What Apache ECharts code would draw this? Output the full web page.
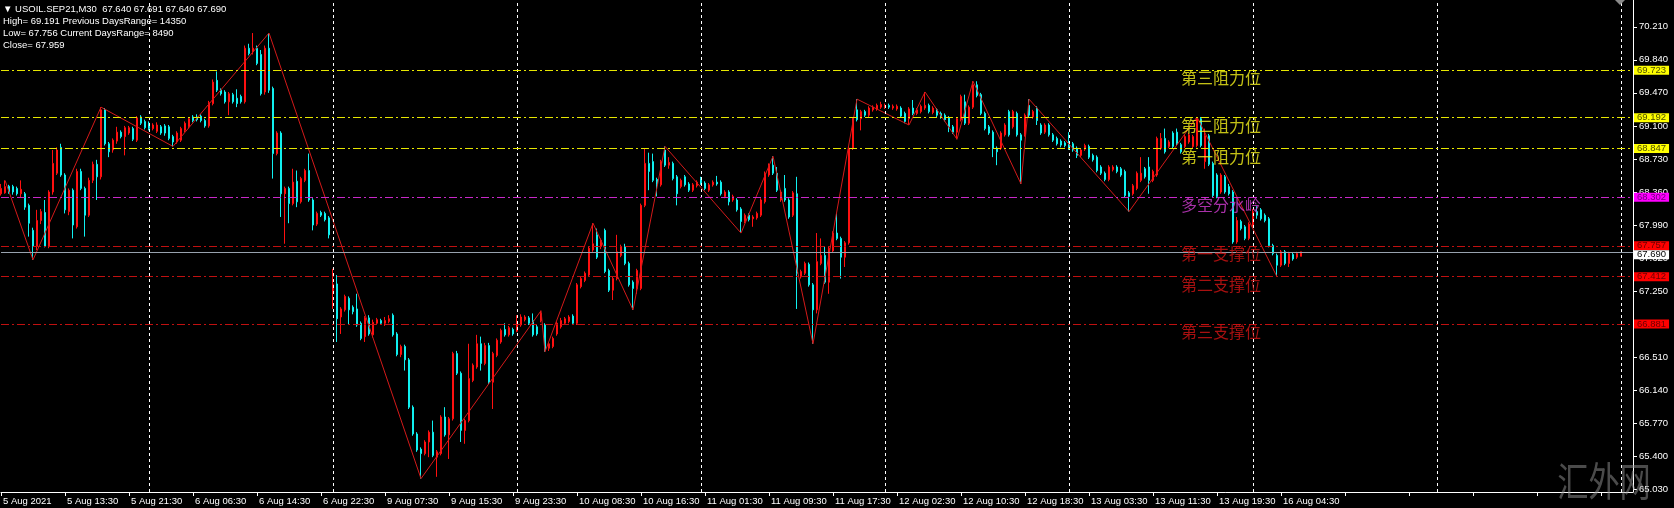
<!DOCTYPE html>
<html><head><meta charset="utf-8">
<script src="https://cdn.jsdelivr.net/npm/echarts@6/dist/echarts.min.js"></script>
<style>html,body{margin:0;padding:0;background:#000;}#c{width:1674px;height:508px;}</style>
</head><body><div id="c"></div>
<script>
// ---- tick labels (one every 16 M30 bars, starting at bar 0) ----
const timeLabels = ['5 Aug 2021','5 Aug 13:30','5 Aug 21:30','6 Aug 06:30','6 Aug 14:30','6 Aug 22:30',
  '9 Aug 07:30','9 Aug 15:30','9 Aug 23:30','10 Aug 08:30','10 Aug 16:30','11 Aug 01:30','11 Aug 09:30',
  '11 Aug 17:30','12 Aug 02:30','12 Aug 10:30','12 Aug 18:30','13 Aug 03:30','13 Aug 11:30','13 Aug 19:30','16 Aug 04:30'];
const labelStep = 16;
const slotCount = 409;
const yTicks = [65.030,65.400,65.770,66.140,66.510,66.880,67.250,67.620,67.990,68.360,68.730,69.100,69.470,69.840,70.210];
const daySeparators = [37,83,129,175,221,267,313,359,405];

// ---- candles [open, close, low, high] per trading day ----
const aug05 = [[68.34,68.40,68.32,68.45],[68.35,68.42,68.34,68.49],[68.425,68.36,68.34,68.44],[68.42,68.36,68.33,68.44],
[68.40,68.34,68.32,68.42],[68.34,68.39,68.30,68.49],[68.34,68.19,68.16,68.36],[68.21,68.01,67.86,68.23],[67.93,67.75,67.60,67.96],
[67.75,68.04,67.71,68.16],[68.04,68.14,68.00,68.17],[68.13,67.75,67.74,68.27],[67.75,68.36,67.73,68.38],[68.36,68.68,68.33,68.83],
[68.57,68.83,68.55,68.86],[68.86,68.55,68.53,68.90],[68.55,68.16,68.12,68.57],[68.14,68.38,68.10,68.40],[68.38,67.99,67.84,68.40],
[67.97,68.59,67.95,68.62],[68.59,68.40,68.38,68.62],[68.40,68.10,67.86,68.42],[68.10,68.49,68.08,68.52],[68.49,68.67,68.46,68.70],
[68.67,68.53,68.27,68.72],[68.53,69.28,68.50,69.31],[69.28,68.90,68.88,69.30],[68.90,68.81,68.75,68.92],[68.83,68.94,68.80,68.96],
[68.93,69.03,68.90,69.09],[69.03,68.98,68.96,69.05],[68.98,69.08,68.77,69.10],[69.02,69.08,69.00,69.10],[69.07,68.95,68.93,69.09],
[68.94,69.19,68.92,69.21],[69.20,69.13,69.11,69.22],[69.15,69.08,69.06,69.17]];
const aug06 = [[69.13,69.07,69.05,69.15],[69.07,69.11,69.05,69.13],[69.04,69.11,69.02,69.14],[69.09,69.02,69.00,69.11],
[69.10,69.02,68.99,69.12],[69.09,68.96,68.94,69.11],[68.98,68.92,68.87,69.00],[68.92,69.02,68.90,69.04],[68.94,69.07,68.92,69.09],
[69.05,69.13,69.03,69.15],[69.09,69.18,69.07,69.20],[69.20,69.16,69.14,69.22],[69.20,69.17,69.15,69.23],[69.21,69.16,69.14,69.23],
[69.16,69.10,69.08,69.18],[69.10,69.36,69.08,69.38],[69.35,69.59,69.33,69.62],[69.61,69.50,69.48,69.71],[69.50,69.46,69.44,69.52],
[69.48,69.37,69.35,69.50],[69.37,69.46,69.22,69.48],[69.45,69.37,69.35,69.47],[69.41,69.35,69.31,69.51],[69.43,69.37,69.35,69.45],
[69.37,69.97,69.35,70.00],[69.97,69.91,69.89,70.02],[69.93,69.97,69.90,70.14],[69.97,69.80,69.78,70.00],[69.90,69.46,69.44,69.95],
[69.48,69.97,69.45,70.00],[69.97,69.50,69.47,70.14],[69.52,68.79,68.51,69.54],[68.79,69.02,68.77,69.04],[69.02,68.34,68.08,69.04],
[68.34,68.40,67.78,68.42],[68.40,68.23,68.01,68.42],[68.23,68.47,68.21,68.62],[68.48,68.25,68.19,68.60],[68.25,68.51,68.23,68.53],
[68.49,68.60,68.47,68.62],[68.60,68.27,68.25,68.79],[68.27,67.99,67.93,68.29],[68.00,68.12,67.98,68.14],[68.13,68.10,68.08,68.15],
[68.12,68.05,68.03,68.14],[68.07,67.88,67.84,68.09]];
const aug09 = [[67.24,67.33,67.05,67.50],[67.33,66.94,66.68,67.43],[66.96,67.05,66.77,67.07],[67.04,67.19,67.02,67.21],
[67.17,67.04,66.87,67.19],[67.07,67.02,66.99,67.09],[67.05,66.87,66.85,67.22],[66.89,66.72,66.70,66.91],[66.74,66.95,66.68,66.97],
[66.95,66.77,66.75,66.98],[66.76,66.90,66.73,66.93],[66.89,66.93,66.87,66.95],[66.92,66.89,66.87,66.94],[66.89,66.92,66.86,66.96],
[66.91,66.94,66.89,66.98],[66.98,66.76,66.74,67.00],[66.77,66.54,66.52,66.79],[66.54,66.63,66.51,66.65],[66.63,66.48,66.36,66.65],
[66.48,65.95,65.93,66.50],[65.95,65.65,65.63,65.97],[65.65,65.47,65.45,65.67],[65.48,65.43,65.15,65.50],[65.43,65.56,65.41,65.58],
[65.56,65.67,65.39,65.69],[65.67,65.41,65.39,65.80],[65.39,65.45,65.17,65.47],[65.43,65.84,65.41,65.86],[65.84,65.64,65.62,65.95],
[65.64,65.82,65.37,65.84],[65.82,66.55,65.80,66.57],[66.55,66.33,66.31,66.58],[66.33,65.69,65.56,66.35],[65.69,65.80,65.54,65.82],
[65.80,66.27,65.78,66.66],[66.25,66.42,66.23,66.44],[66.40,66.66,66.38,66.76],[66.66,66.44,66.36,66.74],[66.44,66.64,66.42,66.67],
[66.64,66.23,66.21,66.67],[66.23,66.55,65.93,66.57],[66.53,66.70,66.51,66.72],[66.68,66.81,66.66,66.83],[66.82,66.76,66.74,66.89],
[66.76,66.84,66.74,66.86],[66.82,66.77,66.75,66.84]];
const aug10 = [[66.80,66.90,66.79,66.98],[66.87,66.96,66.85,66.99],[66.93,66.96,66.91,66.98],[66.95,66.89,66.87,66.97],
[66.92,66.76,66.74,67.00],[66.85,66.77,66.75,66.87],[66.92,67.00,66.90,67.03],[66.87,66.59,66.57,66.89],[66.61,66.66,66.58,66.68],
[66.63,66.72,66.61,66.74],[66.77,66.89,66.75,66.91],[66.85,66.92,66.83,66.95],[66.89,66.94,66.87,66.96],[66.91,66.96,66.89,66.98],
[66.97,66.89,66.87,66.99],[66.89,67.32,66.87,67.34],[67.30,67.39,67.28,67.41],[67.37,67.45,67.35,67.47],[67.43,67.73,67.41,67.75],
[67.71,67.78,67.69,68.01],[67.88,67.63,67.61,67.95],[67.75,67.82,67.72,67.84],[67.93,67.47,67.45,67.95],[67.48,67.26,67.24,67.50],
[67.26,67.39,67.15,67.41],[67.39,67.69,67.37,67.88],[67.65,67.75,67.63,67.77],[67.75,67.56,67.54,67.78],[67.56,67.32,67.30,67.58],
[67.35,67.28,67.04,67.37],[67.28,67.48,67.22,67.50],[67.28,68.21,67.26,68.23],[68.21,68.68,68.19,68.85],[68.68,68.59,68.38,68.80],
[68.70,68.49,68.47,68.79],[68.50,68.44,68.31,68.52],[68.44,68.70,68.42,68.72],[68.83,68.66,68.64,68.87],[68.66,68.69,68.62,68.75],
[68.68,68.51,68.49,68.70],[68.53,68.34,68.21,68.55],[68.42,68.49,68.40,68.51],[68.53,68.44,68.42,68.55],[68.45,68.38,68.36,68.47],
[68.38,68.44,68.36,68.46],[68.43,68.47,68.41,68.49]];
const aug11 = [[68.51,68.46,68.44,68.53],[68.46,68.40,68.38,68.48],[68.38,68.44,68.36,68.46],[68.44,68.47,68.42,68.49],
[68.47,68.45,68.43,68.54],[68.47,68.34,68.32,68.49],[68.31,68.36,68.29,68.38],[68.36,68.25,68.21,68.38],[68.27,68.31,68.25,68.33],
[68.27,68.16,68.14,68.29],[68.17,68.03,67.90,68.19],[68.03,68.10,68.01,68.12],[68.10,68.05,68.03,68.12],[68.06,68.08,67.97,68.10],
[68.07,68.12,68.05,68.14],[68.10,68.27,68.08,68.29],[68.25,68.57,68.23,68.59],[68.55,68.66,68.53,68.68],[68.66,68.57,68.55,68.76],
[68.57,68.38,68.36,68.64],[68.27,68.36,68.25,68.38],[68.40,68.27,68.25,68.55],[68.27,68.08,68.06,68.29],[68.10,68.35,68.08,68.37],
[68.34,67.45,67.05,68.53],[67.41,67.47,67.39,67.49],[67.45,67.56,67.43,67.58],[67.55,67.32,67.30,67.57],[67.32,67.04,66.66,67.34],
[67.04,67.58,67.00,67.90],[67.56,67.65,67.54,67.84],[67.65,67.35,67.33,67.75],[67.35,67.73,67.22,67.75],[67.70,67.90,67.68,67.92],
[67.90,67.84,67.82,68.12],[67.84,67.63,67.39,67.86],[67.63,67.79,67.52,67.81],[67.79,68.85,67.77,68.87],[68.85,69.18,68.83,69.20],
[69.28,69.17,69.15,69.40],[69.18,69.26,69.05,69.28],[69.26,69.22,69.20,69.28],[69.22,69.30,69.20,69.32],[69.28,69.31,69.26,69.33],
[69.29,69.33,69.27,69.35],[69.31,69.34,69.29,69.37]];
const aug12 = [[69.31,69.33,69.29,69.35],[69.33,69.31,69.29,69.35],[69.30,69.32,69.28,69.34],[69.29,69.32,69.27,69.34],
[69.30,69.21,69.19,69.32],[69.24,69.15,69.13,69.26],[69.18,69.29,69.11,69.31],[69.30,69.24,69.22,69.39],[69.24,69.28,69.22,69.30],
[69.26,69.32,69.24,69.34],[69.30,69.33,69.28,69.48],[69.33,69.26,69.24,69.35],[69.25,69.30,69.23,69.32],[69.28,69.22,69.20,69.30],
[69.24,69.20,69.18,69.26],[69.22,69.17,69.15,69.24],[69.19,69.09,69.03,69.21],[69.09,69.03,69.01,69.11],[69.03,69.18,68.95,69.20],
[69.17,69.43,69.15,69.45],[69.37,69.13,69.11,69.45],[69.13,69.31,69.11,69.33],[69.31,69.56,69.29,69.60],[69.56,69.44,69.42,69.60],
[69.45,69.24,69.22,69.47],[69.24,69.07,69.05,69.26],[69.09,69.02,69.00,69.11],[69.03,68.85,68.75,69.05],[68.85,68.81,68.66,68.87],
[68.85,69.02,68.83,69.04],[69.00,69.11,68.98,69.13],[69.26,69.00,68.98,69.28],[69.09,69.26,69.07,69.28],[69.24,69.00,68.98,69.26],
[69.00,68.94,68.45,69.02],[69.00,69.22,68.98,69.24],[69.33,69.22,69.20,69.40],[69.20,69.26,69.18,69.28],[69.30,69.16,69.11,69.32],
[69.11,69.02,69.00,69.13],[69.03,69.11,69.01,69.13],[69.11,69.00,68.98,69.13],[69.00,68.94,68.92,69.02],[68.96,68.90,68.88,68.98],
[68.93,68.885,68.86,68.95],[68.91,68.88,68.86,68.93]];
const aug13 = [[68.92,68.85,68.83,69.03],[68.90,68.83,68.81,68.92],[68.85,68.77,68.74,68.87],[68.77,68.83,68.75,68.85],
[68.84,68.88,68.82,68.90],[68.87,68.75,68.73,68.89],[68.77,68.72,68.70,68.79],[68.75,68.60,68.58,68.77],[68.64,68.57,68.55,68.66],
[68.57,68.50,68.48,68.59],[68.50,68.64,68.48,68.66],[68.61,68.64,68.59,68.66],[68.64,68.59,68.57,68.66],[68.62,68.55,68.53,68.64],
[68.59,68.32,68.30,68.61],[68.35,68.31,68.14,68.37],[68.34,68.43,68.32,68.45],[68.40,68.57,68.38,68.59],[68.49,68.57,68.47,68.75],
[68.62,68.53,68.51,68.64],[68.64,68.49,68.34,68.75],[68.49,68.59,68.47,68.61],[68.55,68.96,68.53,68.98],[68.85,68.96,68.83,69.02],
[68.96,68.81,68.79,69.07],[68.87,68.92,68.85,68.94],[69.02,68.87,68.85,69.04],[69.03,68.90,68.88,69.07],[68.89,68.81,68.79,68.91],
[68.87,68.98,68.85,69.00],[68.92,69.00,68.90,69.02],[68.87,68.98,68.85,69.00],[68.88,69.18,68.86,69.20],[69.18,68.88,68.86,69.20],
[68.70,68.99,68.62,69.07],[68.99,68.67,68.65,69.01],[68.68,68.32,68.30,68.70],[68.55,68.31,68.29,68.57],[68.36,68.55,68.34,68.57],
[68.53,68.36,68.34,68.55],[68.42,68.34,68.32,68.45],[68.36,67.80,67.78,68.38],[67.80,68.04,67.78,68.08],[68.03,67.95,67.93,68.05],
[67.97,67.84,67.82,67.99],[67.84,68.00,67.82,68.02]];
const aug16 = [[67.99,68.14,67.97,68.17],[68.14,68.10,68.06,68.20],[68.16,68.06,68.04,68.18],[68.10,68.04,68.02,68.12],
[68.06,67.76,67.74,68.08],[67.76,67.67,67.65,67.78],[67.65,67.54,67.41,67.67],[67.54,67.69,67.52,67.71],[67.69,67.56,67.54,67.71],
[67.56,67.67,67.52,67.69],[67.66,67.61,67.59,67.68],[67.63,67.67,67.61,67.69],[67.640,67.690,67.640,67.691]];

// ---- zigzag pivots [bar index, price] ----
const zigzag = [[1,68.49],[8,67.60],[25,69.31],[43,68.87],[67,70.14],[105,65.15],[135,67.03],[136,66.57],[148,68.01],
[158,67.04],[166,68.87],[185,67.90],[193,68.76],[203,66.66],[214,69.40],[227,69.11],[231,69.48],[239,68.95],[243,69.60],
[255,68.45],[257,69.40],[282,68.14],[299,69.20],[319,67.41]];

// ---- horizontal levels ----
const levelNames = ['第三阻力位','第二阻力位','第一阻力位','多空分水岭','第一支撑位','第二支撑位','第三支撑位'];
const levelValues = [69.723, 69.192, 68.847, 68.302, 67.757, 67.412, 66.881];
const levelTextBar = 295;
const lastPrice = 67.690;

// ---- header info ----
const symbolName = 'USOIL.SEP21,M30';
const lastOHLC = [67.640, 67.691, 67.640, 67.690];
const dayHigh = 69.191, prevRange = 14350, dayLow = 67.756, curRange = 8490, prevClose = 67.959;

const candles = [].concat(aug05, aug06, aug09, aug10, aug11, aug12, aug13, aug16);
const cats = Array.from({length: slotCount}, (_, i) => String(i));

function lvlStyle(i) {
  if (i < 3) return {line:'#e6e600', text:'#f4f01c', box:'#ffff00', boxText:'#4d4d00'};
  if (i === 3) return {line:'#c828c8', text:'#d23cd2', box:'#ff00ff', boxText:'#70007a'};
  return {line:'#c01010', text:'#d21414', box:'#ff0000', boxText:'#6a0000'};
}
const AX_FONT = 'Liberation Sans';
const axFS = 9.5;

const markData = levelValues.map((v, i) => {
  const s = lvlStyle(i);
  return {yAxis: v, lineStyle: {color: s.line, type: [8,3,2,3], width: 1},
    label: {backgroundColor: s.box, color: s.boxText}};
});
markData.push({yAxis: lastPrice, lineStyle: {color: '#98a2ae', type: 'solid', width: 1},
  label: {backgroundColor: '#ffffff', color: '#000000', offset: [0, 3]}});

const hdrFont = axFS + 'px "' + AX_FONT + '"';
const chart = echarts.init(document.getElementById('c'), null, {renderer: 'canvas'});
chart.setOption({
  backgroundColor: '#000000',
  animation: false,
  grid: {left: 0, right: 41, top: 0, bottom: 16},
  xAxis: {
    type: 'category', data: cats, boundaryGap: false,
    axisLine: {show: true, lineStyle: {color: '#ffffff', width: 1}},
    axisTick: {show: true, interval: (i) => i % labelStep === 0, length: 4, lineStyle: {color: '#ffffff'}},
    axisLabel: {
      interval: (i) => i % labelStep === 0,
      formatter: (v, i) => timeLabels[i / labelStep] || '',
      color: '#ffffff', fontSize: axFS, fontFamily: AX_FONT, align: 'left', padding: [0,0,0,2], margin: 4
    },
    splitLine: {show: false}
  },
  yAxis: {
    type: 'value', position: 'right', min: 65.0, max: 70.51,
    axisLine: {show: true, lineStyle: {color: '#ffffff', width: 1}},
    axisTick: {show: true, customValues: yTicks, length: 4, lineStyle: {color: '#ffffff'}},
    axisLabel: {customValues: yTicks, formatter: (v) => Number(v).toFixed(3), color: '#ffffff',
      fontSize: axFS, fontFamily: AX_FONT, margin: 6},
    splitLine: {show: false}
  },
  series: [
    {
      type: 'line', data: [], z: 1, silent: true,
      markLine: {symbol: 'none', silent: true, animation: false,
        lineStyle: {color: '#ffffff', type: [3,3], width: 1}, label: {show: false},
        data: daySeparators.map(i => ({xAxis: i}))}
    },
    {
      type: 'candlestick', data: candles, z: 2, barWidth: 2,
      itemStyle: {color: '#ff1010', color0: '#10f0f0', borderColor: '#ff1010', borderColor0: '#10f0f0', borderWidth: 1}
    },
    {
      type: 'line', data: zigzag, z: 3, symbol: 'none', silent: true,
      lineStyle: {color: '#d41a1a', width: 1}
    },
    {
      type: 'line', data: [], z: 4, silent: true,
      markLine: {symbol: 'none', silent: true, precision: 3, animation: false,
        label: {show: true, position: 'end', distance: 1, formatter: (p) => Number(p.value).toFixed(3),
          fontSize: axFS, fontFamily: AX_FONT, padding: [1,3,0,3], lineHeight: 8},
        data: markData}
    },
    {
      type: 'scatter', z: 5, silent: true, symbolSize: 0,
      data: levelValues.map((v, i) => ({value: [levelTextBar, v], name: levelNames[i],
        label: {color: lvlStyle(i).text}})),
      label: {show: true, position: 'right', distance: 0, offset: [0, 8], formatter: (p) => p.name,
        fontSize: 16, fontFamily: 'Noto Sans CJK SC'}
    }
  ],
  graphic: [
    {type: 'text', x: 3, y: 9, z: 50, style: {text: '▼ ' + symbolName + '  ' + lastOHLC.map(v => v.toFixed(3)).join(' '),
      fill: '#ffffff', font: hdrFont, verticalAlign: 'middle'}},
    {type: 'text', x: 3, y: 21.5, z: 50, style: {text: 'High= ' + dayHigh.toFixed(3) + ' Previous DaysRange= ' + prevRange,
      fill: '#ffffff', font: hdrFont, verticalAlign: 'middle'}},
    {type: 'text', x: 3, y: 33.5, z: 50, style: {text: 'Low= ' + dayLow.toFixed(3) + ' Current DaysRange= ' + curRange,
      fill: '#ffffff', font: hdrFont, verticalAlign: 'middle'}},
    {type: 'text', x: 3, y: 45.5, z: 50, style: {text: 'Close= ' + prevClose.toFixed(3),
      fill: '#ffffff', font: hdrFont, verticalAlign: 'middle'}},
    {type: 'polygon', z: 50, shape: {points: [[1615,0],[1625,0],[1620,5]]}, style: {fill: '#8a8a8a'}},
    {type: 'text', x: 1604, y: 481, scaleX: 0.78, z: 60, style: {text: '汇外网', fill: 'rgba(150,150,150,0.5)',
      font: '40px "Noto Sans CJK SC"', align: 'center', verticalAlign: 'middle'}}
  ]
});
</script></body></html>
